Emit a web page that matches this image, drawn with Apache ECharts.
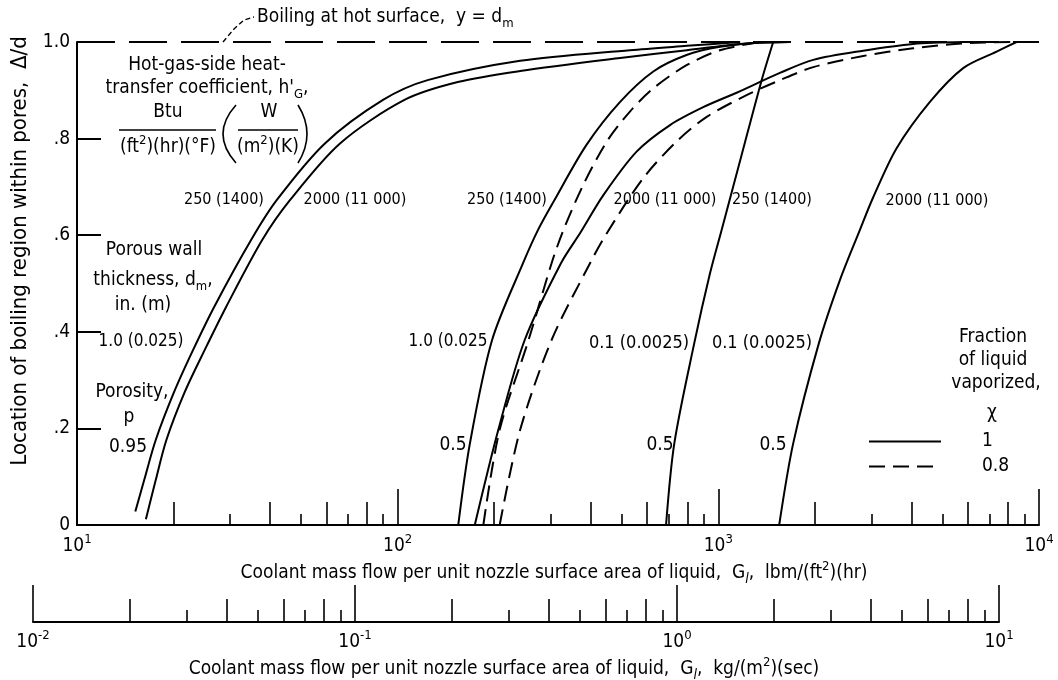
<!DOCTYPE html>
<html><head><meta charset="utf-8">
<script src="https://cdn.jsdelivr.net/npm/echarts@6/dist/echarts.min.js"></script>
<style>html,body{margin:0;padding:0;background:#fff}#chart{width:1058px;height:680px}</style>
</head><body><div id="chart"></div>
<script>
// ---------- tick values / labels ----------
const yTickValues = [0, 0.2, 0.4, 0.6, 0.8, 1.0];
const yTickLabels = ['0', '.2', '.4', '.6', '.8', '1.0'];
const lbmDecades = [10, 100, 1000, 10000];
const lbmEvenTicks = [20, 40, 60, 80, 200, 400, 600, 800, 2000, 4000, 6000, 8000];
const lbmOddTicks = [30, 50, 70, 90, 300, 500, 700, 900, 3000, 5000, 7000, 9000];
const kgDecades = [0.01, 0.1, 1, 10];
const kgEvenTicks = [0.02, 0.04, 0.06, 0.08, 0.2, 0.4, 0.6, 0.8, 2, 4, 6, 8];
const kgOddTicks = [0.03, 0.05, 0.07, 0.09, 0.3, 0.5, 0.7, 0.9, 3, 5, 7, 9];

// ---------- curves: [G (lbm/ft2 hr), delta/d] ----------
const boilingLine = [[10, 1.0], [10000, 1.0]];
// d_m = 1.0 in., porosity 0.95
const p95_h250_x1 = [[15.2,0.028],[16.2,0.093],[17.6,0.176],[20.1,0.276],[23.0,0.362],[26.8,0.452],[34.9,0.590],[42.0,0.673],[59.3,0.790],[90,0.880],[124,0.921],[241,0.961],[530,0.983],[798,0.992],[1170,1.0]];
const p95_h2000_x1 = [[16.4,0.012],[17.6,0.093],[19.0,0.176],[21.7,0.276],[25.0,0.362],[29.2,0.452],[37.8,0.590],[46.2,0.673],[66.1,0.790],[105,0.880],[154,0.917],[241,0.940],[494,0.967],[798,0.983],[1170,0.996],[1670,1.0]];
// d_m = 1.0 in., porosity 0.5
const p5_h250_x1 = [[154.5,0],[168,0.169],[197,0.383],[246,0.542],[274,0.611],[306,0.669],[388,0.787],[494,0.876],[627,0.939],[796,0.973],[1012,0.990],[1350,0.999],[1670,1.0]];
const p5_h250_x08 = [[185,0],[208,0.197],[256,0.383],[302,0.542],[329,0.611],[379,0.704],[449,0.794],[530,0.856],[627,0.904],[796,0.952],[1012,0.983],[1350,1.0]];
const p5_h2000_x1 = [[174,0],[206,0.197],[249,0.383],[323,0.542],[372,0.606],[438,0.683],[556,0.773],[707,0.828],[897,0.865],[1140,0.895],[1556,0.936],[1977,0.963],[2830,0.982],[4050,0.996],[5790,1.0]];
const p5_h2000_x08 = [[208,0],[241,0.197],[302,0.383],[398,0.542],[446,0.601],[583,0.718],[741,0.794],[920,0.845],[1225,0.890],[1556,0.921],[1977,0.948],[2830,0.971],[4050,0.987],[5800,0.997],[8290,1.0]];
// d_m = 0.1 in., porosity 0.5
const thin_h250_x1 = [[687,0],[729,0.169],[841,0.376],[942,0.521],[1024,0.611],[1182,0.766],[1365,0.921],[1483,1.0]];
const thin_h2000_x1 = [[1548,0],[1712,0.169],[2058,0.376],[2394,0.507],[2764,0.611],[3034,0.677],[3597,0.780],[4569,0.876],[5802,0.946],[7375,0.980],[8513,1.0]];

// ---------- styling ----------
const FONT = "'Liberation Sans Narrow','DejaVu Sans Condensed','Arial Narrow',sans-serif";
const FS = 19;
const RICH = {
  sub: { fontSize: 13, fontFamily: FONT, verticalAlign: 'bottom', lineHeight: 14 },
  subi: { fontSize: 14, fontFamily: FONT, fontStyle: 'italic', verticalAlign: 'bottom', lineHeight: 14 },
  sup: { fontSize: 13, fontFamily: FONT, verticalAlign: 'top', lineHeight: 14 }
};
const log10 = Math.log10;

function tickAxis(grid, min, max, vals, len, labels, margin) {
  return {
    gridIndex: grid, type: 'value', min: min, max: max, position: 'bottom',
    axisLine: { show: false, onZero: false },
    splitLine: { show: false },
    axisTick: { show: true, inside: true, length: len, customValues: vals, lineStyle: { color: '#000', width: 1.6 } },
    axisLabel: labels ? {
      show: true, customValues: labels, margin: margin,
      formatter: v => '{b|10}{s|' + Math.round(v) + '}',
      rich: { b: { fontSize: FS, fontFamily: FONT, color: '#000', lineHeight: 26 },
              s: { fontSize: 13, fontFamily: FONT, color: '#000', lineHeight: 14, verticalAlign: 'top' } }
    } : { show: false }
  };
}

function curve(name, data, dashed) {
  return {
    type: 'line', name: name, data: data, xAxisIndex: 0, yAxisIndex: 0,
    smooth: 0.3, symbol: 'none', clip: false, silent: true,
    lineStyle: { color: '#000', width: 2, type: dashed ? [16, 8] : 'solid' }
  };
}

function T(x, y, text, extra) {
  return { type: 'text', x: x, y: y, silent: true,
    style: Object.assign({ text: text, fill: '#000', fontSize: FS, fontFamily: FONT, lineHeight: 26,
      align: 'center', verticalAlign: 'middle', rich: RICH }, extra || {}) };
}
function L(x1, y1, x2, y2) {
  return { type: 'line', silent: true, shape: { x1, y1, x2, y2 }, style: { stroke: '#000', lineWidth: 1.5 } };
}
function P(x1, y1, y2, cpx) {
  return { type: 'bezierCurve', silent: true, shape: { x1: x1, y1: y1, x2: x1, y2: y2, cpx1: cpx, cpy1: (y1 + y2) / 2 },
    style: { stroke: '#000', lineWidth: 1.6, fill: null } };
}

const chart = echarts.init(document.getElementById('chart'), null, { renderer: 'canvas' });
const option = {
  animation: false,
  backgroundColor: '#fff',
  grid: [
    { left: 77, right: 19, top: 42, bottom: 155 },
    { left: 33, right: 59, top: 560, bottom: 58 }
  ],
  xAxis: [
    { gridIndex: 0, type: 'log', logBase: 10, min: 10, max: 10000, position: 'bottom',
      axisLine: { show: true, onZero: false, lineStyle: { color: '#000', width: 2 } },
      axisTick: { show: false }, axisLabel: { show: false }, splitLine: { show: false }, minorTick: { show: false } },
    tickAxis(0, 1, 4, lbmDecades.map(log10), 36, lbmDecades.map(log10), 8),
    tickAxis(0, 1, 4, lbmEvenTicks.map(log10), 23),
    tickAxis(0, 1, 4, lbmOddTicks.map(log10), 11),
    Object.assign(tickAxis(1, -2, 1, kgDecades.map(log10), 37, kgDecades.map(log10), 7),
      { axisLine: { show: true, onZero: false, lineStyle: { color: '#000', width: 2 } } }),
    tickAxis(1, -2, 1, kgEvenTicks.map(log10), 23),
    tickAxis(1, -2, 1, kgOddTicks.map(log10), 12)
  ],
  yAxis: [
    { gridIndex: 0, type: 'value', min: 0, max: 1, interval: 0.2,
      axisLine: { show: true, onZero: false, lineStyle: { color: '#000', width: 2 } },
      axisTick: { show: true, inside: true, length: 24, lineStyle: { color: '#000', width: 2 } },
      splitLine: { show: false },
      axisLabel: { margin: 7, color: '#000', fontSize: FS, fontFamily: FONT,
        formatter: v => yTickLabels[Math.round(v * 5)] } },
    { gridIndex: 1, type: 'value', show: false }
  ],
  legend: {
    data: ['1', '0.8'], orient: 'vertical', left: 868, top: 432, padding: 0,
    itemWidth: 72, itemHeight: 14, itemGap: 6, selectedMode: false,
    itemStyle: { opacity: 0 },
    textStyle: { fontSize: FS, fontFamily: FONT, color: '#000', padding: [0, 0, 0, 36] }
  },
  series: [
    { type: 'line', name: 'Boiling at hot surface', data: boilingLine, symbol: 'none', silent: true, clip: false,
      lineStyle: { color: '#000', width: 2, type: [38, 14] } },
    curve('1', p95_h250_x1, false),
    curve('1', p95_h2000_x1, false),
    curve('1', p5_h250_x1, false),
    curve('0.8', p5_h250_x08, true),
    curve('1', p5_h2000_x1, false),
    curve('0.8', p5_h2000_x08, true),
    curve('1', thin_h250_x1, false),
    curve('1', thin_h2000_x1, false)
  ],
  graphic: { elements: [
    { type: 'polyline', silent: true, shape: { points: [[223, 42], [234, 29], [244, 20], [254, 17]] },
      style: { stroke: '#000', lineWidth: 1.4, lineDash: [5, 3], fill: null } },
    T(257, 17, 'Boiling at hot surface,  y = d{sub|m}', { align: 'left' }),
    T(207, 65, 'Hot-gas-side heat-'),
    T(207, 88, "transfer coefficient, h'{sub|G},"),
    T(168, 112, 'Btu'),
    L(119, 130, 216, 130),
    T(168, 147, '(ft{sup|2})(hr)(°F)'),
    T(269, 112, 'W'),
    L(238, 130, 298, 130),
    T(268, 147, '(m{sup|2})(K)'),
    P(236, 105, 163, 210),
    P(298, 105, 163, 316),
    T(224, 200, '250 (1400)', { fontSize: 16 }),
    T(355, 200, '2000 (11 000)', { fontSize: 16 }),
    T(507, 200, '250 (1400)', { fontSize: 16 }),
    T(665, 200, '2000 (11 000)', { fontSize: 16 }),
    T(772, 200, '250 (1400)', { fontSize: 16 }),
    T(937, 201, '2000 (11 000)', { fontSize: 16 }),
    T(154, 250, 'Porous wall'),
    T(153, 280, 'thickness, d{sub|m},'),
    T(143, 305, 'in. (m)'),
    T(141, 342, '1.0 (0.025)', { fontSize: 17 }),
    T(132, 392, 'Porosity,'),
    T(129, 417, 'p'),
    T(128, 447, '0.95'),
    T(448, 342, '1.0 (0.025', { fontSize: 17 }),
    T(453, 445, '0.5'),
    T(639, 343, '0.1 (0.0025)', { fontSize: 18 }),
    T(762, 343, '0.1 (0.0025)', { fontSize: 18 }),
    T(660, 445, '0.5'),
    T(773, 445, '0.5'),
    T(993, 337, 'Fraction'),
    T(993, 360, 'of liquid'),
    T(996, 383, 'vaporized,'),
    T(992, 413, 'χ'),
    T(554, 573, 'Coolant mass flow per unit nozzle surface area of liquid,  G{subi|l},  lbm/(ft{sup|2})(hr)'),
    T(504, 669, 'Coolant mass flow per unit nozzle surface area of liquid,  G{subi|l},  kg/(m{sup|2})(sec)'),
    { type: 'text', x: 20, y: 251, rotation: Math.PI / 2, silent: true,
      style: { text: 'Location of boiling region within pores,  Δ/d', fill: '#000', fontSize: 22, fontFamily: FONT,
        align: 'center', verticalAlign: 'middle' } }
  ] }
};
chart.setOption(option);
</script>
</body></html>
